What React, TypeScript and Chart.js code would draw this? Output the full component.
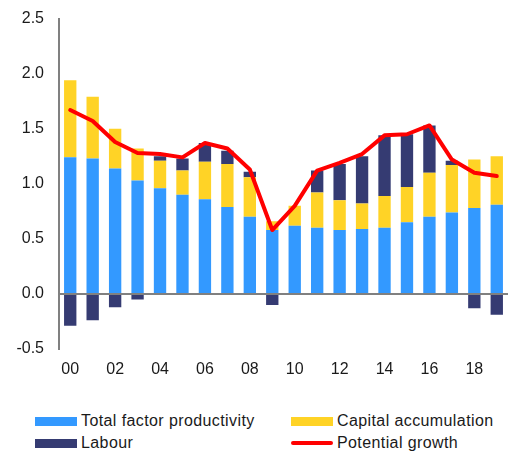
import React, { useEffect, useRef } from "react";
import { Chart, registerables } from "chart.js";

Chart.register(...registerables);

const years = ["00","01","02","03","04","05","06","07","08","09","10","11","12","13","14","15","16","17","18","19"];
const tfp = [1.24, 1.23, 1.14, 1.03, 0.96, 0.90, 0.86, 0.79, 0.70, 0.58, 0.62, 0.60, 0.58, 0.59, 0.60, 0.65, 0.70, 0.74, 0.78, 0.81];
const capital = [0.70, 0.56, 0.36, 0.29, 0.25, 0.22, 0.34, 0.39, 0.36, 0.08, 0.18, 0.32, 0.27, 0.23, 0.29, 0.32, 0.40, 0.43, 0.44, 0.44];
const labour = [-0.29, -0.24, -0.12, -0.05, 0.04, 0.11, 0.17, 0.12, 0.05, -0.10, 0, 0.20, 0.33, 0.43, 0.55, 0.48, 0.43, 0.04, -0.13, -0.19];
const potential = [1.67, 1.57, 1.38, 1.28, 1.27, 1.24, 1.37, 1.32, 1.13, 0.58, 0.80, 1.12, 1.19, 1.27, 1.44, 1.45, 1.53, 1.22, 1.10, 1.07];

const C_TFP = "#3399FF";
const C_CAP = "#FFD326";
const C_LAB = "#353B72";
const C_POT = "#FF0000";
const FONT = "'Liberation Sans', Arial, sans-serif";

export default function App() {
  const ref = useRef<HTMLCanvasElement | null>(null);

  useEffect(() => {
    if (!ref.current) return;
    const chart = new Chart(ref.current, {
      type: "bar",
      data: {
        labels: years,
        datasets: [
          { type: "line", label: "Potential growth", data: potential, borderColor: C_POT, backgroundColor: C_POT, borderWidth: 4, pointRadius: 0, tension: 0, borderJoinStyle: "round", borderCapStyle: "round", order: 0 } as any,
          { label: "Total factor productivity", data: tfp, backgroundColor: C_TFP, stack: "s", order: 1 },
          { label: "Capital accumulation", data: capital, backgroundColor: C_CAP, stack: "s", order: 1 },
          { label: "Labour", data: labour, backgroundColor: C_LAB, stack: "s", order: 1 },
        ],
      },
      options: {
        animation: false,
        responsive: false,
        maintainAspectRatio: false,
        layout: { padding: { top: 10, left: 0, right: 0, bottom: 0 } },
        plugins: { legend: { display: false }, tooltip: { enabled: false } },
        datasets: { bar: { barPercentage: 0.55, categoryPercentage: 1 } },
        scales: {
          x: {
            stacked: true,
            grid: { display: false },
            border: { display: false },
            ticks: {
              autoSkip: false,
              maxRotation: 0,
              padding: 3,
              color: "#1a1a1a",
              font: { family: FONT, size: 16 },
              callback: (_v: any, i: number) => (i % 2 === 0 ? years[i] : ""),
            },
            afterFit: (s: any) => { s.height = 41; },
          },
          y: {
            stacked: true,
            min: -0.5,
            max: 2.5,
            border: { display: true, color: "#808080", width: 2 },
            grid: {
              drawTicks: false,
              color: (ctx: any) => (ctx.tick && ctx.tick.value === 0 ? "#808080" : "rgba(0,0,0,0)"),
              lineWidth: 2,
            },
            ticks: {
              stepSize: 0.5,
              padding: 15,
              color: "#1a1a1a",
              font: { family: FONT, size: 16 },
              callback: (v: any) => Number(v).toFixed(1),
            },
            afterFit: (s: any) => { s.width = 59; },
          },
        },
      },
    });
    return () => chart.destroy();
  }, []);

  const textStyle: React.CSSProperties = {
    position: "absolute",
    fontFamily: FONT,
    fontSize: 16,
    lineHeight: "18px",
    color: "#1a1a1a",
    whiteSpace: "nowrap",
    letterSpacing: "0.4px",
  };
  const sw = (left: number, top: number, color: string, h = 9, extra: React.CSSProperties = {}) => (
    <div style={{ position: "absolute", left, top, width: 42, height: h, background: color, ...extra }} />
  );

  return (
    <div style={{ position: "absolute", left: 0, top: 0, width: 508, height: 453, background: "#fff", overflow: "hidden" }}>
      <canvas ref={ref} width={508} height={396} style={{ position: "absolute", left: 0, top: -6, width: 508, height: 396 }} />
      {sw(35, 417, C_TFP)}
      <div style={{ ...textStyle, left: 81, top: 412 }}>Total factor productivity</div>
      {sw(291, 417, C_CAP)}
      <div style={{ ...textStyle, left: 337, top: 412 }}>Capital accumulation</div>
      {sw(35, 439, C_LAB)}
      <div style={{ ...textStyle, left: 81, top: 434 }}>Labour</div>
      {sw(291, 441, C_POT, 4, { borderRadius: 2 })}
      <div style={{ ...textStyle, left: 337, top: 434 }}>Potential growth</div>
    </div>
  );
}
